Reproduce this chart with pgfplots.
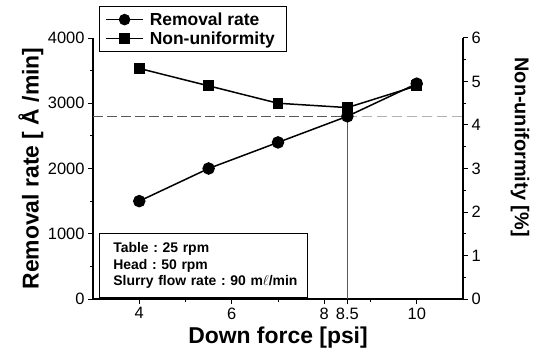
\documentclass[border=0pt]{standalone}
\usepackage{pgfplots}
\pgfplotsset{compat=1.18}
\usepackage{fontspec}
\setmainfont{Liberation Sans}
\frenchspacing
\begin{document}
\begin{tikzpicture}[x=1bp,y=1bp]
\useasboundingbox (0,0) rectangle (537,355);
\pgfplotsset{
  base/.style={
    at={(93bp,56bp)}, anchor=south west, scale only axis,
    width=370bp, height=261bp, xmin=3, xmax=11,
    axis line style={-, line width=1.2bp},
    tick align=outside, major tick length=5bp, minor tick length=3bp,
    tick style={black, line width=1bp},
    tick label style={font=\fontsize{16.5}{16.5}\selectfont},
    /pgf/number format/assume math mode=true,
    legend image code/.code={\draw[mark repeat=2,mark phase=2] plot coordinates {(0bp,0bp)(18.5bp,0bp)(37bp,0bp)};},
  }
}
\begin{axis}[base,
  ymin=0, ymax=4000,
  axis x line*=bottom, axis y line*=left,
  xtick={4,6,8,8.5,10}, xticklabels={4,6,8,8.5,10},
  minor xtick={5,7,9},
  ytick={0,1000,2000,3000,4000}, minor ytick={500,1500,2500,3500},
  scaled y ticks=false,
  yticklabel style={/pgf/number format/1000 sep={}},
  xlabel={Down force [psi]},
  xlabel style={font=\bfseries\fontsize{23}{23}\selectfont, at={(axis description cs:0.5,-0.146)}, anchor=center},
  ylabel={Removal rate [ Å /min]},
  ylabel style={font=\bfseries\fontsize{23}{23}\selectfont, at={(axis description cs:-0.168,0.5)}, anchor=center},
]
\addplot[gray!70!black, dashed, line width=1bp, dash pattern=on 10bp off 4bp] coordinates {(3,2800) (8.5,2800)};
\addplot[gray!60, dashed, line width=1bp, dash pattern=on 10bp off 5bp] coordinates {(8.5,2800) (11,2800)};
\addplot[gray!70!black, line width=1bp] coordinates {(8.5,0) (8.5,2800)};
\addplot[black, line width=1.5bp, mark=*, mark size=5.5bp] coordinates {
(4,1500) (5.5,2000) (7,2400) (8.5,2800) (10,3300)};
\node[draw, line width=0.8bp, fill=white, anchor=south west, minimum height=64bp, text width=180bp, inner xsep=14bp, align=left, font=\bfseries\fontsize{14}{16.5}\selectfont]
  at (axis description cs:0.016,0.004) {\mbox{Table : 25 rpm}\\\mbox{Head : 50 rpm}\\\mbox{Slurry flow rate : 90 m$\ell$/min}};
\end{axis}
\begin{axis}[base,
  ymin=0, ymax=6,
  axis x line=none, axis y line*=right,
  ytick={0,1,2,3,4,5,6}, minor ytick={0.5,1.5,2.5,3.5,4.5,5.5},
  ylabel={Non-uniformity [\%]},
  ylabel style={font=\bfseries\fontsize{20}{20}\selectfont, at={(axis description cs:1.154,0.582)}, anchor=center, rotate=180},
  legend style={at={(axis description cs:0.016,1.122)}, anchor=north west, draw=black, line width=0.8bp, fill=white,
    font=\bfseries\fontsize{17.5}{17.5}\selectfont, row sep=1bp, inner xsep=6bp, inner ysep=4bp,
    nodes={inner xsep=6bp}},
  legend cell align=left,
]
\addlegendimage{black, line width=1.5bp, mark=*, mark size=5bp}
\addlegendentry{Removal rate}
\addplot[black, line width=1.5bp, mark=square*, mark size=4.7bp] coordinates {
(4,5.3) (5.5,4.9) (7,4.5) (8.5,4.4) (10,4.9)};
\addlegendentry{Non-uniformity}
\end{axis}
\end{tikzpicture}
\end{document}
